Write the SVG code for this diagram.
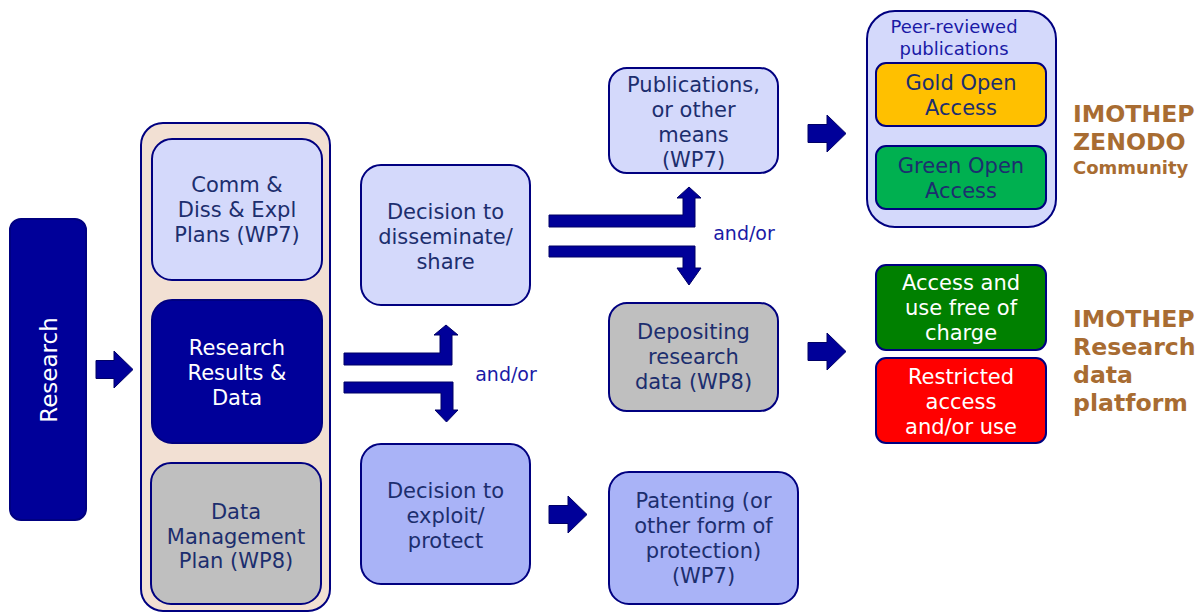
<svg xmlns="http://www.w3.org/2000/svg" width="1202" height="614" viewBox="0 0 1202 614">
<style>
.box{stroke:#000080;stroke-width:2}
.lav{fill:#d4d9fb}
.mid{fill:#a9b3f7}
.gray{fill:#bfbfbf}
.dark{fill:#000099}
.t{font-family:"DejaVu Sans",Verdana,sans-serif;font-size:21px;fill:#1c2e6e;text-anchor:middle}
.w{fill:#ffffff}
.blue{fill:#1a1aa6;font-size:18px}
.andor{font-size:19px}
.big{font-size:23px}
.brand{font-family:"DejaVu Sans",Verdana,sans-serif;font-weight:bold;fill:#a86c32;font-size:23.6px}
.small{font-size:18px}
.arr{fill:#000099;stroke:#000066;stroke-width:1}
</style>
<rect width="1202" height="614" fill="#ffffff"/>
<g id="research">
<rect class="box dark" x="10" y="219" width="76" height="301" rx="11"/>
<text class="t w big" transform="translate(57,370) rotate(-90)">Research</text>
</g>
<g id="container">
<rect x="141" y="123" width="189" height="488" rx="22" fill="#f2e0d3" stroke="#000080" stroke-width="2"/>
</g>
<g id="comm">
<rect class="box lav" x="152" y="139" width="170" height="141" rx="20"/>
<text class="t" x="237" y="192">Comm &amp;</text>
<text class="t" x="237" y="217">Diss &amp; Expl</text>
<text class="t" x="237" y="242">Plans (WP7)</text>
</g>
<g id="results">
<rect class="box dark" x="152" y="300" width="170" height="143" rx="20"/>
<text class="t w" x="237" y="355">Research</text>
<text class="t w" x="237" y="380">Results &amp;</text>
<text class="t w" x="237" y="405">Data</text>
</g>
<g id="dmp">
<rect class="box gray" x="151" y="463" width="170" height="141" rx="20"/>
<text class="t" x="236" y="519">Data</text>
<text class="t" x="236" y="544">Management</text>
<text class="t" x="236" y="568">Plan (WP8)</text>
</g>
<g id="disseminate">
<rect class="box lav" x="361" y="165" width="169" height="140" rx="20"/>
<text class="t" x="445.5" y="219">Decision to</text>
<text class="t" x="445.5" y="244">disseminate/</text>
<text class="t" x="445.5" y="269">share</text>
</g>
<g id="exploit">
<rect class="box mid" x="361" y="444" width="169" height="140" rx="20"/>
<text class="t" x="445.5" y="498">Decision to</text>
<text class="t" x="445.5" y="523">exploit/</text>
<text class="t" x="445.5" y="548">protect</text>
</g>
<g id="publications">
<rect class="box lav" x="609" y="68" width="169" height="105" rx="18"/>
<text class="t" x="693.5" y="92">Publications,</text>
<text class="t" x="693.5" y="117">or other</text>
<text class="t" x="693.5" y="142">means</text>
<text class="t" x="693.5" y="167">(WP7)</text>
</g>
<g id="depositing">
<rect class="box gray" x="609" y="303" width="169" height="108" rx="18"/>
<text class="t" x="693.5" y="339">Depositing</text>
<text class="t" x="693.5" y="364">research</text>
<text class="t" x="693.5" y="389">data (WP8)</text>
</g>
<g id="patenting">
<rect class="box mid" x="609" y="472" width="189" height="132" rx="20"/>
<text class="t" x="703.5" y="508">Patenting (or</text>
<text class="t" x="703.5" y="533">other form of</text>
<text class="t" x="703.5" y="558">protection)</text>
<text class="t" x="703.5" y="583">(WP7)</text>
</g>
<g id="peer">
<rect class="box lav" x="867" y="11" width="189" height="216" rx="28"/>
<text class="t blue" x="954" y="33">Peer-reviewed</text>
<text class="t blue" x="954" y="55">publications</text>
</g>
<g id="gold">
<rect class="box" fill="#ffc000" x="876" y="63" width="170" height="63" rx="10"/>
<text class="t" x="961" y="90">Gold Open</text>
<text class="t" x="961" y="115">Access</text>
</g>
<g id="green">
<rect class="box" fill="#00b050" x="876" y="146" width="170" height="63" rx="10"/>
<text class="t" x="961" y="173">Green Open</text>
<text class="t" x="961" y="198">Access</text>
</g>
<g id="free">
<rect class="box" fill="#008000" x="876" y="265" width="170" height="85" rx="10"/>
<text class="t w" x="961" y="290">Access and</text>
<text class="t w" x="961" y="315">use free of</text>
<text class="t w" x="961" y="340">charge</text>
</g>
<g id="restricted">
<rect class="box" fill="#ff0000" x="876" y="358" width="170" height="85" rx="10"/>
<text class="t w" x="961" y="384">Restricted</text>
<text class="t w" x="961" y="409">access</text>
<text class="t w" x="961" y="434">and/or use</text>
</g>
<g id="zenodo">
<text class="brand" x="1073" y="122">IMOTHEP</text>
<text class="brand" x="1073" y="150">ZENODO</text>
<text class="brand small" x="1073" y="174">Community</text>
</g>
<g id="platform">
<text class="brand" x="1073" y="327">IMOTHEP</text>
<text class="brand" x="1073" y="355">Research</text>
<text class="brand" x="1073" y="383">data</text>
<text class="brand" x="1073" y="411">platform</text>
</g>
<g id="connectors">
<path class="arr" d="M96,360.5 H114 V351 L133,369.5 L114,388 V378.5 H96 Z"/>
<path class="arr" d="M344,353 H440 V335 H434 L446,325 L458,335 H452 V365 H344 Z"/>
<path class="arr" d="M344,382 H453 V410 H458 L446.5,422 L435,410 H441 V393 H344 Z"/>
<path class="arr" d="M549,215 H683 V198 H677 L689,187 L701,198 H695 V227 H549 Z"/>
<path class="arr" d="M549,246 H695 V268 H701 L689,285 L677,268 H683 V257 H549 Z"/>
<path class="arr" d="M808,124.5 H827 V115 L846,133.5 L827,152 V142.5 H808 Z"/>
<path class="arr" d="M808,342.5 H827 V333 L846,351.5 L827,370 V360.5 H808 Z"/>
<path class="arr" d="M549,505.5 H568 V496 L587,514.5 L568,533 V523.5 H549 Z"/>
<text class="t blue andor" x="506" y="381">and/or</text>
<text class="t blue andor" x="744" y="240">and/or</text>
</g>
</svg>
